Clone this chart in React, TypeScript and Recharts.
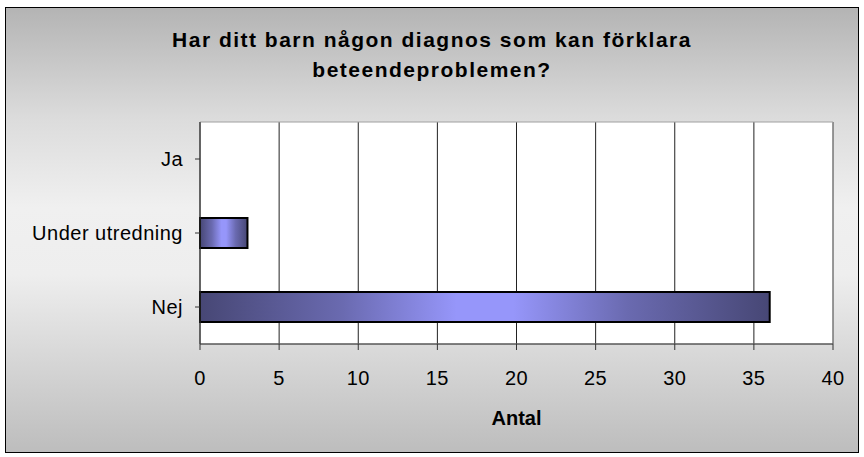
import React from "react";
import {
  BarChart,
  Bar,
  XAxis,
  YAxis,
  CartesianGrid,
  ReferenceArea,
  Label,
} from "recharts";

const categories = ["Ja", "Under utredning", "Nej"];
const counts = [0, 3, 36];
const xTicks = [0, 5, 10, 15, 20, 25, 30, 35, 40];

const data = categories.map((name, i) => ({ name, antal: counts[i] }));

const FONT = "'Liberation Sans', Arial, sans-serif";

export default function App() {
  return (
    <div
      style={{
        position: "absolute",
        left: 0,
        top: 0,
        width: 864,
        height: 457,
        background: "#fff",
        fontFamily: FONT,
      }}
    >
      {/* chart area background with border */}
      <div
        style={{
          position: "absolute",
          left: 5,
          top: 7,
          width: 852,
          height: 444,
          border: "1px solid #000",
          background:
            "linear-gradient(to bottom, #b4b4b4 0%, #dcdcdc 25%, #f0f0f0 45%, #eeeeee 60%, #bdbdbd 100%)",
        }}
      />
      <div
        style={{
          position: "absolute",
          left: 0,
          top: 25,
          width: 864,
          textAlign: "center",
          fontWeight: "bold",
          fontSize: 21,
          letterSpacing: 1.5,
          lineHeight: "30px",
          color: "#000",
        }}
      >
        Har ditt barn någon diagnos som kan förklara
        <br />
        beteendeproblemen?
      </div>
      <div style={{ position: "absolute", left: 0, top: 0 }}>
        <BarChart
          width={864}
          height={457}
          data={data}
          layout="vertical"
          margin={{ top: 122, right: 31, bottom: 28, left: 0 }}
        >
          <defs>
            <linearGradient id="barGrad" x1="0" y1="0" x2="1" y2="0">
              <stop offset="0%" stopColor="#474775" />
              <stop offset="25%" stopColor="#6a6ab0" />
              <stop offset="45%" stopColor="#9696fa" />
              <stop offset="55%" stopColor="#9696fa" />
              <stop offset="75%" stopColor="#6a6ab0" />
              <stop offset="100%" stopColor="#474775" />
            </linearGradient>
          </defs>
          <CartesianGrid
            horizontal={false}
            stroke="#222"
            strokeWidth={1}
            fill="#ffffff"
            fillOpacity={1}
          />
          <ReferenceArea
            x1={0}
            x2={40}
            fill="none"
            stroke="#a0a0a0"
            strokeWidth={1}
            ifOverflow="visible"
          />
          <XAxis
            type="number"
            domain={[0, 40]}
            ticks={xTicks}
            interval={0}
            height={85}
            axisLine={{ stroke: "#333", strokeWidth: 1 }}
            tickLine={{ stroke: "#333" }}
            tickSize={6}
            tickMargin={21}
            tick={{ fill: "#000", fontSize: 20, fontFamily: FONT, letterSpacing: 0.5 }}
          >
            <Label
              value="Antal"
              position="insideBottom"
              offset={4}
              style={{
                fontWeight: "bold",
                fontSize: 20,
                fill: "#000",
                fontFamily: FONT,
              }}
            />
          </XAxis>
          <YAxis
            type="category"
            dataKey="name"
            width={200}
            axisLine={{ stroke: "#333", strokeWidth: 1 }}
            tickLine={{ stroke: "#333" }}
            tickSize={5}
            tickMargin={12}
            tick={{ fill: "#000", fontSize: 20, fontFamily: FONT, letterSpacing: 0.5 }}
          />
          <Bar
            dataKey="antal"
            barSize={30}
            fill="url(#barGrad)"
            stroke="#000"
            strokeWidth={2}
            isAnimationActive={false}
          />
        </BarChart>
      </div>
    </div>
  );
}
